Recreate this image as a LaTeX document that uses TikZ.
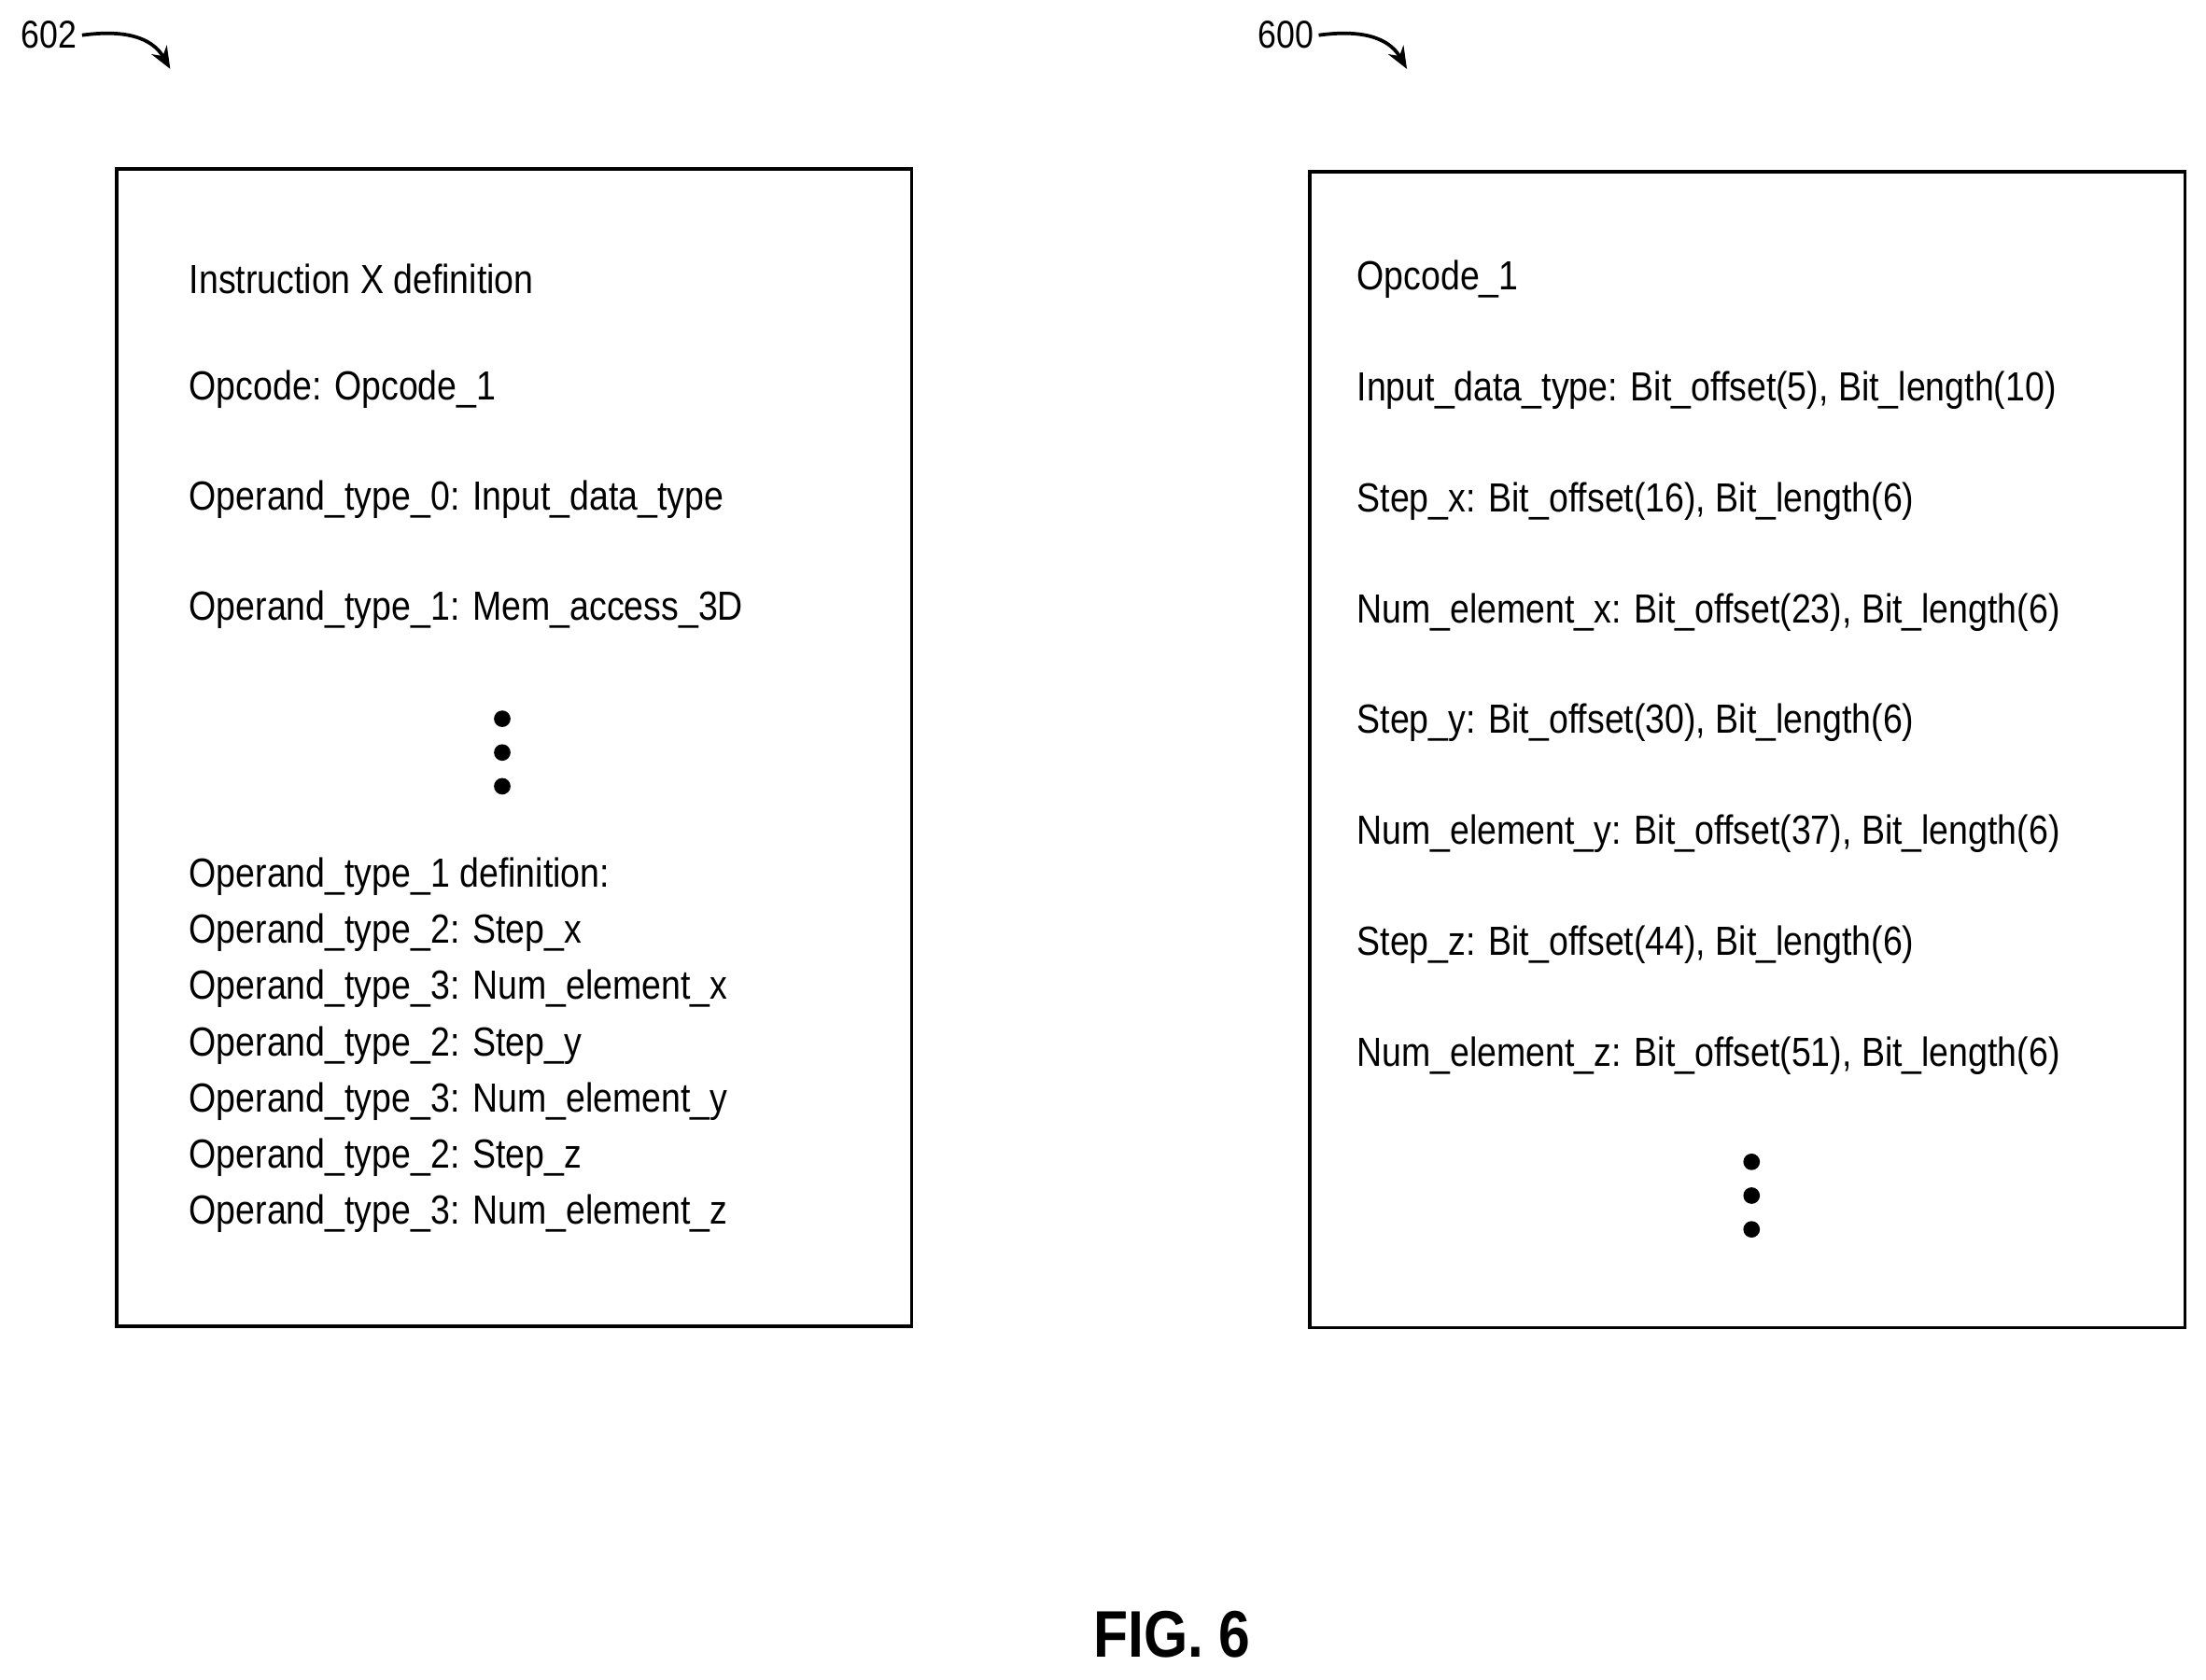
\documentclass[tikz,border=0pt]{standalone}
\usepackage{fontspec}
\setmainfont[FakeStretch=0.86]{Liberation Sans}
\usetikzlibrary{arrows.meta}
\tikzset{
  txt/.style={anchor=west,inner sep=0pt,font=\fontsize{10.5}{12}\selectfont},
  dot/.style={circle,fill,inner sep=0pt,minimum size=0.15cm},
  box/.style={draw,line width=0.8pt},
  ref/.style={inner sep=0pt,font=\fontsize{10}{12}\selectfont},
  refarrow/.style={-{Stealth[length=0.2cm,width=0.16cm]},line width=0.9pt}
}
\begin{document}
\begin{tikzpicture}[x=0.01275cm,y=-0.01275cm]
\useasboundingbox (0,0) rectangle (1568,1194);

\draw[box] (83,120) rectangle (648,943);
\draw[box] (931,122) rectangle (1553,944);

% left box
\foreach \t [count=\i] in {Instruction X definition,Opcode: Opcode\_1,Operand\_type\_0: Input\_data\_type,Operand\_type\_1: Mem\_access\_3D}
  \node[txt] (l\i) at (134,120+78.3*\i) {\t};
\foreach \i in {0,1,2}
  \node[dot] (ld\i) at (357,511+24*\i) {};
\foreach \t [count=\i] in {Operand\_type\_1 definition:,Operand\_type\_2: Step\_x,Operand\_type\_3: Num\_element\_x,Operand\_type\_2: Step\_y,Operand\_type\_3: Num\_element\_y,Operand\_type\_2: Step\_z,Operand\_type\_3: Num\_element\_z}
  \node[txt] (m\i) at (134,583+40*\i) {\t};

% right box
\foreach \t [count=\i] in {Opcode\_1,Input\_data\_type: Bit\_offset(5){,} Bit\_length(10),Step\_x: Bit\_offset(16){,} Bit\_length(6),Num\_element\_x: Bit\_offset(23){,} Bit\_length(6),Step\_y: Bit\_offset(30){,} Bit\_length(6),Num\_element\_y: Bit\_offset(37){,} Bit\_length(6),Step\_z: Bit\_offset(44){,} Bit\_length(6),Num\_element\_z: Bit\_offset(51){,} Bit\_length(6)}
  \node[txt] (r\i) at (964,120+78.8*\i) {\t};
\foreach \i in {0,1,2}
  \node[dot] (rd\i) at (1245,826+24*\i) {};

% reference labels
\node[ref] (n602) at (35,25) {602};
\node[ref] (n600) at (914,25) {600};
\coordinate (a602) at (121,49);
\coordinate (a600) at (1000,49);
\draw[refarrow] (n602.east) ++(3,0) .. controls (95,20) and (110,30) .. (a602);
\draw[refarrow] (n600.east) ++(3,0) .. controls (974,20) and (989,30) .. (a600);

\node[inner sep=0pt,font=\bfseries\fontsize{17}{20}\selectfont] (fig) at (833,1162) {FIG. 6};
\end{tikzpicture}
\end{document}
